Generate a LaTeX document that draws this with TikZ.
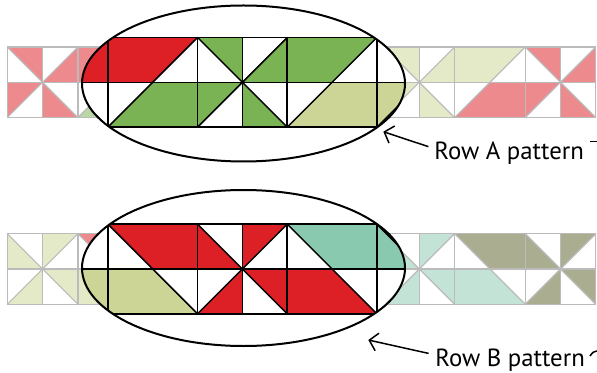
\documentclass[tikz,border=0pt]{standalone}
\usepackage{fontspec}
\setmainfont{PT Sans}
\usetikzlibrary{arrows.meta}

\definecolor{quiltred}{RGB}{221,31,38}
\definecolor{quiltgreen}{RGB}{122,179,84}
\definecolor{quiltolive}{RGB}{204,212,150}
\definecolor{quiltteal}{RGB}{137,201,175}
\definecolor{quiltsage}{RGB}{93,97,44}
\definecolor{gridgrey}{RGB}{187,187,187}

% one row of blocks, cell = 1, centre line at y=0
% #1 tint, #2 pinwheels x/colour, #3 geese x/upper/lower
\newcommand{\quiltrow}[3]{%
  \foreach \x/\c in {#2} {
    \fill[\c!#1!white] (\x+1,0) -- (\x,1) -- (\x+1,1) -- cycle
                       (\x+1,0) -- (\x+2,1) -- (\x+2,0) -- cycle
                       (\x+1,0) -- (\x+2,-1) -- (\x+1,-1) -- cycle
                       (\x+1,0) -- (\x,-1) -- (\x,0) -- cycle;
  }
  \foreach \x/\ct/\cb in {#3} {
    \fill[\ct!#1!white] (\x,0) -- (\x,1) -- (\x+2,1) -- (\x+1,0) -- cycle;
    \fill[\cb!#1!white] (\x,-1) -- (\x+1,0) -- (\x+2,0) -- (\x+2,-1) -- cycle;
  }
}
\newcommand{\quiltgrid}[1]{%
  \draw[#1] (0,-1) -- (14,-1) (0,0) -- (14,0) (0,1) -- (14,1);
  \foreach \x in {0,1,2,4,5,6,8,9,10,12,13,14}
    \draw[#1] (\x,-1) -- (\x,1);
  \foreach \x in {0,4,8,12}
    \draw[#1] (\x,-1) -- (\x+2,1) (\x,1) -- (\x+2,-1);
  \foreach \x in {2,6,10}
    \draw[#1] (\x,-1) -- (\x+2,1);
}
\newcommand{\rowA}[1]{\quiltrow{#1}
  {0/quiltred,4/quiltgreen,8/quiltolive,12/quiltred}
  {2/quiltred/quiltgreen,6/quiltgreen/quiltolive,10/quiltolive/quiltred}}
\newcommand{\rowB}[1]{\quiltrow{#1}
  {0/quiltolive,4/quiltred,8/quiltteal,12/quiltsage}
  {2/quiltolive/quiltred,6/quiltred/quiltteal,10/quiltteal/quiltsage}}

\begin{document}
\begin{tikzpicture}
  [x=0.5pt, y=-0.5pt,
   faint_line/.style={draw=gridgrey, line width=0.6pt},
   big_line/.style={draw=black, line width=0.75pt},
   lens_style/.style={draw=black, line width=1pt},
   label_style/.style={font=\fontsize{12.4}{14}\selectfont, inner sep=0pt, anchor=base west},
   arrow_style/.style={draw=black, line width=0.75pt, -{Straight Barb[length=4pt,width=9pt]}}]
  \useasboundingbox (0,0) rectangle (597,373);

  % faint strips, left part
  \begin{scope}
    \clip (0,0) rectangle (243.5,373);
    \begin{scope}[shift={(7.3,82.3)}, x=17.65pt, y=17.65pt]
      \rowA{52} \quiltgrid{faint_line}
    \end{scope}
    \begin{scope}[shift={(7.3,269)}, x=17.65pt, y=-17.65pt]
      \rowB{52} \quiltgrid{faint_line}
    \end{scope}
  \end{scope}
  % faint strips, right part
  \begin{scope}
    \clip (243.5,0) rectangle (597,373);
    \begin{scope}[shift={(101.6,82.3)}, x=17.65pt, y=17.65pt]
      \rowA{52} \quiltgrid{faint_line}
    \end{scope}
    \begin{scope}[shift={(101.6,269)}, x=17.65pt, y=-17.65pt]
      \rowB{52} \quiltgrid{faint_line}
    \end{scope}
  \end{scope}

  % lens A
  \fill[white] (243.5,83.5) ellipse [x radius=161.5, y radius=78];
  \begin{scope}
    \clip (243.5,83.5) ellipse [x radius=161.5, y radius=78];
    \begin{scope}[shift={(18.2,82.3)}, x=22.42pt, y=22.42pt]
      \rowA{100} \quiltgrid{big_line}
    \end{scope}
  \end{scope}
  \draw[lens_style] (243.5,83.5) ellipse [x radius=161.5, y radius=78];

  % lens B
  \fill[white] (243.5,268) ellipse [x radius=161.5, y radius=78];
  \begin{scope}
    \clip (243.5,268) ellipse [x radius=161.5, y radius=78];
    \begin{scope}[shift={(18.2,269)}, x=22.42pt, y=-22.42pt]
      \rowB{100} \quiltgrid{big_line}
    \end{scope}
  \end{scope}
  \draw[lens_style] (243.5,268) ellipse [x radius=161.5, y radius=78];

  % labels
  \node[label_style] (label_a) at (434,160) {Row A pattern};
  \node[label_style] (label_b) at (435,366.7) {Row B pattern};
  \coordinate (tip_a) at (383.3,131.7);
  \coordinate (tip_b) at (368.3,340);
  \draw[arrow_style] ([xshift=-2.8pt,yshift=3.5pt]label_a.west) -- (tip_a);
  \draw[arrow_style] ([xshift=-3.2pt,yshift=3.5pt]label_b.west) -- (tip_b);

  % cut marks at the right edge
  \draw[line width=0.75pt] (590,141.5) -- (597,141.5);
  \draw[line width=0.75pt] (590,356) .. controls (593,352) .. (597,351);
\end{tikzpicture}
\end{document}
